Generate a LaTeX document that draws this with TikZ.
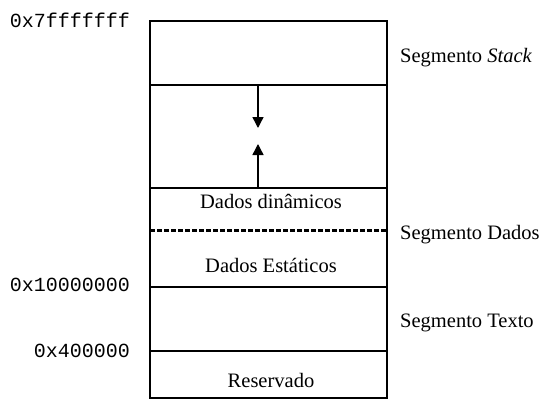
\documentclass[tikz,border=0pt]{standalone}
\usepackage{fontspec}
\setmainfont{Liberation Serif}
\setmonofont{Liberation Mono}
\usetikzlibrary{arrows.meta}
\begin{document}
\begin{tikzpicture}[x=1pt,y=-1pt,
  seg/.style={line width=1.4pt},
  lbl/.style={inner sep=0pt,font=\fontsize{20.5}{24}\selectfont},
  addr/.style={inner sep=0pt,font=\ttfamily\fontsize{20}{24}\selectfont,anchor=base east},
  growarrow/.style={line width=1.4pt,-{Triangle[width=11pt,length=11pt]}}]
\useasboundingbox (0,0) rectangle (542,399);
% frame corners
\coordinate (tl) at (150,21);
\coordinate (br) at (387,398);
\draw[seg] (tl) rectangle (br);
% dividing lines
\coordinate (l1a) at (150,85);  \coordinate (l1b) at (387,85);
\coordinate (l2a) at (150,188); \coordinate (l2b) at (387,188);
\coordinate (l3a) at (150,230); \coordinate (l3b) at (387,230);
\coordinate (l4a) at (150,287); \coordinate (l4b) at (387,287);
\coordinate (l5a) at (150,351); \coordinate (l5b) at (387,351);
\draw[seg] (l1a) -- (l1b);
\draw[seg] (l2a) -- (l2b);
\draw[line width=3pt,dash pattern=on 5pt off 2pt] (l3a) -- (l3b);
\draw[seg] (l4a) -- (l4b);
\draw[seg] (l5a) -- (l5b);
% growth arrows
\coordinate (dstart) at (258,85);
\coordinate (dend) at (258,128);
\coordinate (ustart) at (258,188);
\coordinate (uend) at (258,144);
\draw[growarrow] (dstart) -- (dend);
\draw[growarrow] (ustart) -- (uend);
% inner labels
\node[lbl,anchor=base] (din) at (271,208) {Dados dinâmicos};
\node[lbl,anchor=base] (est) at (271,272) {Dados Estáticos};
\node[lbl,anchor=base] (res) at (271,387) {Reservado};
% right labels
\node[lbl,anchor=base west] (sstack) at (400,62) {Segmento \textit{Stack}};
\node[lbl,anchor=base west] (sdados) at (400,239) {Segmento Dados};
\node[lbl,anchor=base west] (stexto) at (400,327) {Segmento Texto};
% addresses
\node[addr] (a1) at (130,27) {0x7fffffff};
\node[addr] (a2) at (130,291) {0x10000000};
\node[addr] (a3) at (130,357) {0x400000};
\end{tikzpicture}
\end{document}
